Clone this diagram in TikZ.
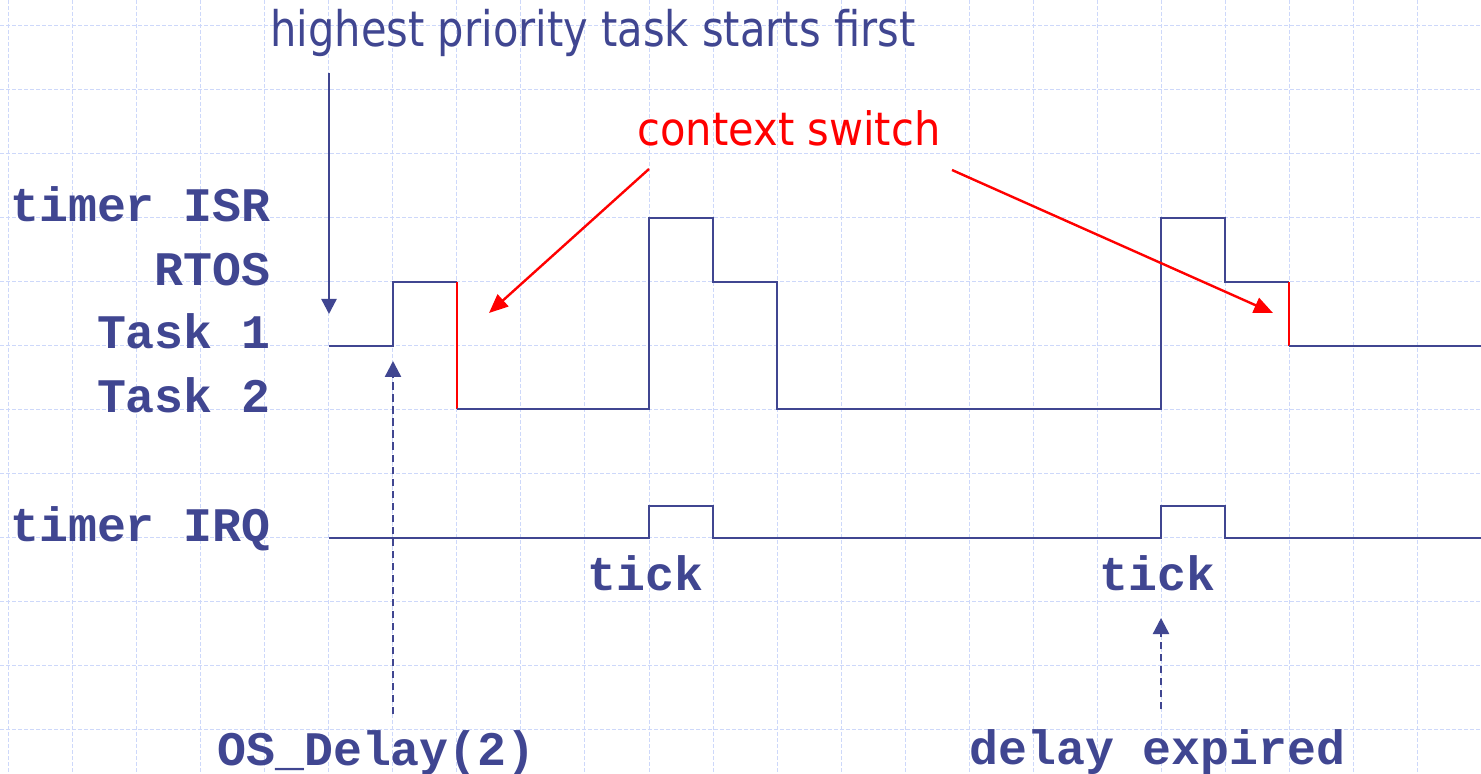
\documentclass[tikz,border=0pt]{standalone}
\usepackage{fontspec}
\usepackage{graphicx}
\usetikzlibrary{arrows.meta}
\setmonofont{Liberation Mono}
\newfontfamily\tahomalike{DejaVu Sans}
\definecolor{navy}{RGB}{64,70,145}
\definecolor{gridc}{RGB}{205,216,250}
\newcommand\fitto[2]{\setbox0=\hbox{#2}\dimen255=\wd0\relax\pgfmathsetmacro\fitr{#1/\the\dimen255}\scalebox{\fitr}[1]{\box0}}
\tikzset{
  gridline/.style={gridc, line width=0.5pt, dash pattern=on 2pt off 1pt},
  wave/.style={navy, line width=1.2pt, line join=miter},
  switchline/.style={red, line width=1.2pt},
  lab/.style={text=navy, inner sep=0pt, font=\ttfamily\bfseries\fontsize{24.1pt}{25pt}\selectfont},
  note/.style={text=navy, inner sep=0pt, font=\tahomalike\fontsize{24.5pt}{26pt}\selectfont},
  rednote/.style={text=red, inner sep=0pt, font=\tahomalike\fontsize{23pt}{26pt}\selectfont},
  solidarrow/.style={navy, line width=1.2pt, -{Triangle[length=7.5pt,width=7.5pt]}},
  dasharrow/.style={navy, line width=1.2pt, dash pattern=on 3.75pt off 2.25pt, -{Triangle[length=8pt,width=8pt]}},
  redarrow/.style={red, line width=1.2pt, -{Triangle[length=9.5pt,width=8pt]}}
}
\begin{document}
\begin{tikzpicture}[x=0.5pt,y=-0.5pt]
\useasboundingbox (0,0) rectangle (1481,774);
\fill[white] (0,0) rectangle (1481,774);
% grid
\foreach \i in {0,...,22} \draw[gridline] ({8.3+64.07*\i},0) -- ({8.3+64.07*\i},774);
\foreach \j in {0,...,11} \draw[gridline] (0,{25.5+64*\j}) -- (1481,{25.5+64*\j});
% labels
\node[lab, anchor=base east] (isr) at (271,222) {timer ISR};
\node[lab, anchor=base east] (rtos) at (271,286) {RTOS};
\node[lab, anchor=base east] (t1) at (271,349) {Task 1};
\node[lab, anchor=base east] (t2) at (271,413) {Task 2};
\node[lab, anchor=base east] (irq) at (271,541) {timer IRQ};
\node[lab, anchor=base west] (tick1) at (587,590) {tick};
\node[lab, anchor=base west] (tick2) at (1099,590) {tick};
\node[lab, anchor=base west] (osd) at (217,765) {OS\_Delay(2)};
\node[lab, anchor=base west] (dexp) at (969,764) {delay expired};
\node[note, anchor=base west] (hp) at (270,47) {\fitto{322.5pt}{highest priority task starts first}};
\node[rednote, anchor=base west] (cs) at (637,146) {\fitto{151.5pt}{context switch}};
% task waveform
\coordinate (w0) at (329,346);
\coordinate (w1) at (393,346);
\coordinate (w2) at (393,282);
\coordinate (w3) at (457,282);
\coordinate (w4) at (457,409);
\coordinate (w5) at (649,409);
\coordinate (w6) at (649,218);
\coordinate (w7) at (713,218);
\coordinate (w8) at (713,282);
\coordinate (w9) at (777,282);
\coordinate (w10) at (777,409);
\coordinate (w11) at (1161,409);
\coordinate (w12) at (1161,218);
\coordinate (w13) at (1225,218);
\coordinate (w14) at (1225,282);
\coordinate (w15) at (1289,282);
\coordinate (w16) at (1289,346);
\coordinate (w17) at (1481,346);
\draw[wave] (w0) -- (w1) -- (w2) -- (w3);
\draw[switchline] (w3) -- (w4);
\draw[wave] (w4) -- (w5) -- (w6) -- (w7) -- (w8) -- (w9) -- (w10) -- (w11) -- (w12) -- (w13) -- (w14) -- (w15);
\draw[switchline] (w15) -- (w16);
\draw[wave] (w16) -- (w17);
% IRQ waveform
\coordinate (q0) at (329,538);
\coordinate (q1) at (649,538);
\coordinate (q2) at (649,506);
\coordinate (q3) at (713,506);
\coordinate (q4) at (713,538);
\coordinate (q5) at (1161,538);
\coordinate (q6) at (1161,506);
\coordinate (q7) at (1225,506);
\coordinate (q8) at (1225,538);
\coordinate (q9) at (1481,538);
\draw[wave] (q0) -- (q1) -- (q2) -- (q3) -- (q4) -- (q5) -- (q6) -- (q7) -- (q8) -- (q9);
% arrows
\coordinate (hpS) at (329,73);
\coordinate (hpE) at (329,314);
\draw[solidarrow] (hpS) -- (hpE);
\coordinate (osS) at (393,714);
\coordinate (osE) at (393,361);
\draw[dasharrow] (osS) -- (osE);
\coordinate (deS) at (1161,709);
\coordinate (deE) at (1161,618);
\draw[dasharrow] (deS) -- (deE);
\coordinate (cs1S) at (649,169);
\coordinate (cs1E) at (489,313);
\coordinate (cs2S) at (952,170);
\coordinate (cs2E) at (1273,313);
\draw[redarrow] (cs1S) -- (cs1E);
\draw[redarrow] (cs2S) -- (cs2E);
\end{tikzpicture}
\end{document}
